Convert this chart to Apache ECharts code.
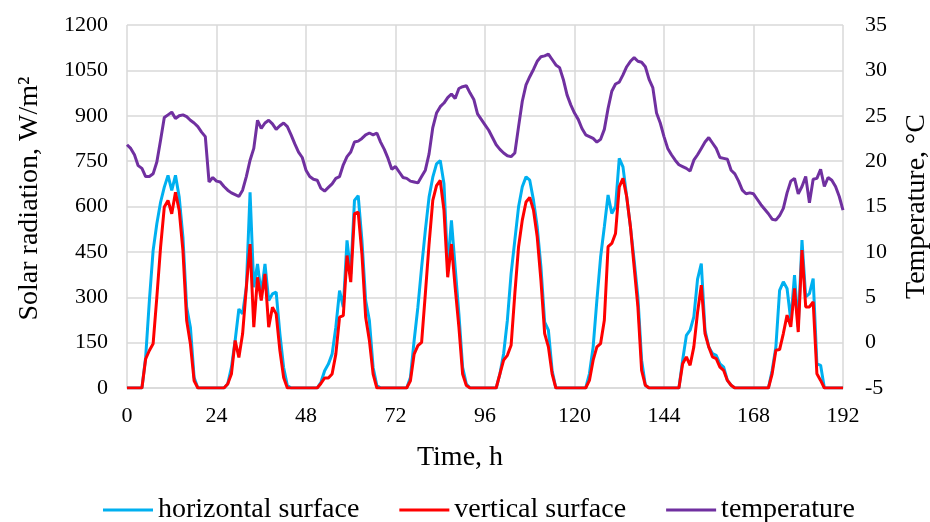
<!DOCTYPE html>
<html>
<head>
<meta charset="utf-8">
<script src="https://cdn.jsdelivr.net/npm/echarts@6/dist/echarts.min.js"></script>
<style>
  html, body { margin: 0; padding: 0; background: #fff; }
  #chart { width: 930px; height: 522px; }
</style>
</head>
<body>
<div id="chart"></div>
<script>
// Hourly time stamps, 0 … 192 h
const hours = Array.from({ length: 193 }, (_, i) => i);
const xTicks = [0, 24, 48, 72, 96, 120, 144, 168, 192];

// Solar radiation on a horizontal surface, W/m²
const horizontal = [
  0, 0, 0, 0, 0, 101, 289, 454, 543, 614, 664, 703, 653, 703, 631, 499, 267, 201, 35, 0, 0, 0, 0, 0,
  0, 0, 0, 13, 68, 157, 261, 245, 333, 647, 333, 410, 311, 410, 289, 311, 317, 179, 68, 8, 0, 0, 0, 0,
  0, 0, 0, 0, 19, 57, 79, 112, 201, 322, 267, 488, 377, 620, 636, 488, 289, 223, 68, 8, 0, 0, 0, 0,
  0, 0, 0, 0, 35, 157, 267, 399, 521, 631, 697, 741, 752, 675, 399, 554, 399, 245, 68, 13, 0, 0, 0, 0,
  0, 0, 0, 0, 47, 114, 224, 378, 489, 599, 665, 698, 687, 621, 533, 400, 218, 191, 58, 0, 0, 0, 0, 0,
  0, 0, 0, 0, 47, 136, 290, 433, 533, 638, 577, 599, 759, 731, 632, 533, 422, 301, 92, 9, 0, 0, 0, 0,
  0, 0, 0, 0, 0, 92, 174, 191, 235, 360, 411, 191, 136, 114, 108, 80, 69, 25, 9, 0, 0, 0, 0, 0,
  0, 0, 0, 0, 0, 58, 136, 323, 351, 329, 224, 373, 202, 489, 301, 312, 362, 80, 75, 0, 0, 0, 0, 0,
  0
];

// Solar radiation on a vertical surface, W/m²
const vertical = [
  0, 0, 0, 0, 0, 96, 124, 146, 300, 465, 598, 620, 576, 647, 587, 454, 223, 146, 24, 0, 0, 0, 0, 0,
  0, 0, 0, 13, 46, 157, 101, 179, 333, 476, 201, 366, 289, 377, 201, 267, 245, 124, 35, 0, 0, 0, 0, 0,
  0, 0, 0, 0, 15, 33, 33, 46, 112, 234, 239, 438, 350, 576, 581, 443, 234, 157, 46, 0, 0, 0, 0, 0,
  0, 0, 0, 0, 24, 112, 140, 151, 311, 476, 620, 669, 686, 587, 366, 476, 333, 201, 46, 8, 0, 0, 0, 0,
  0, 0, 0, 0, 47, 92, 108, 141, 312, 467, 555, 615, 630, 588, 500, 356, 180, 136, 47, 0, 0, 0, 0, 0,
  0, 0, 0, 0, 25, 92, 136, 147, 224, 467, 478, 511, 665, 693, 632, 533, 400, 268, 58, 9, 0, 0, 0, 0,
  0, 0, 0, 0, 0, 80, 103, 75, 136, 250, 340, 180, 136, 103, 97, 69, 58, 25, 9, 0, 0, 0, 0, 0,
  0, 0, 0, 0, 0, 47, 125, 127, 180, 241, 202, 329, 185, 456, 268, 268, 285, 47, 25, 0, 0, 0, 0, 0,
  0
];

// Outdoor air temperature, °C
const temperature = [
  21.8, 21.4, 20.7, 19.5, 19.2, 18.3, 18.3, 18.6, 19.9, 22.3, 24.8, 25.1, 25.4, 24.7, 25.0, 25.1, 24.9, 24.5, 24.2, 23.8, 23.2, 22.7, 17.7, 18.2,
  17.8, 17.7, 17.2, 16.8, 16.5, 16.3, 16.1, 16.8, 18.3, 20.1, 21.4, 24.5, 23.6, 24.2, 24.5, 24.1, 23.5, 23.9, 24.2, 23.8, 22.9, 21.9, 21.0, 20.4,
  19.0, 18.3, 18.0, 17.9, 17.0, 16.7, 17.1, 17.5, 18.1, 18.3, 19.6, 20.5, 21.0, 22.1, 22.2, 22.5, 22.9, 23.1, 22.9, 23.1, 22.1, 21.3, 20.3, 19.1,
  19.4, 18.8, 18.2, 18.1, 17.8, 17.7, 17.6, 18.3, 19.0, 20.8, 23.7, 25.3, 26.0, 26.4, 27.0, 27.4, 26.9, 28.0, 28.2, 28.3, 27.5, 26.8, 25.2, 24.6,
  24.0, 23.4, 22.6, 21.8, 21.3, 20.9, 20.6, 20.5, 20.9, 23.8, 26.6, 28.4, 29.3, 30.1, 31.0, 31.5, 31.6, 31.8, 31.2, 30.6, 30.3, 29.0, 27.3, 26.2,
  25.3, 24.6, 23.6, 22.9, 22.7, 22.5, 22.1, 22.4, 23.5, 25.8, 27.7, 28.5, 28.7, 29.5, 30.4, 31.0, 31.4, 31.0, 30.9, 30.4, 29.0, 28.1, 25.3, 24.2,
  22.7, 21.4, 20.7, 20.1, 19.6, 19.4, 19.2, 18.9, 20.1, 20.7, 21.4, 22.1, 22.6, 22.0, 21.4, 20.4, 20.3, 20.2, 19.0, 18.6, 17.8, 16.8, 16.4, 16.5,
  16.4, 15.8, 15.2, 14.7, 14.2, 13.6, 13.5, 14.0, 14.8, 16.5, 17.8, 18.1, 16.4, 17.2, 18.3, 15.4, 18.0, 18.1, 19.1, 17.2, 18.2, 17.9, 17.2, 16.1,
  14.6
];

const radiationTicks = [0, 150, 300, 450, 600, 750, 900, 1050, 1200];
const temperatureTicks = [-5, 0, 5, 10, 15, 20, 25, 30, 35];

const FONT = "'Liberation Serif', 'Times New Roman', serif";
const GRID_COLOR = '#d9d9d9';

const pairs = (values) => hours.map((h, i) => [h, values[i]]);
const plain = (v) => String(v);

const chart = echarts.init(document.getElementById('chart'), null, { renderer: 'canvas' });

chart.setOption({
  animation: false,
  backgroundColor: '#ffffff',
  textStyle: { fontFamily: FONT, color: '#000' },
  grid: { left: 127, right: 87, top: 25, bottom: 134, containLabel: false, outerBoundsMode: 'none' },
  legend: {
    left: 103,
    top: 496,
    padding: 0,
    icon: 'rect',
    itemWidth: 50,
    itemHeight: 3,
    itemGap: 40,
    textStyle: { fontFamily: FONT, fontSize: 28, color: '#000' },
    data: ['horizontal surface', 'vertical surface', 'temperature']
  },
  xAxis: {
    type: 'value',
    min: xTicks[0],
    max: xTicks[xTicks.length - 1],
    interval: 24,
    name: 'Time, h',
    nameLocation: 'middle',
    nameGap: 56,
    nameTextStyle: { fontFamily: FONT, fontSize: 28, color: '#000', padding: [0, 50, 0, 0] },
    axisLine: { show: true, lineStyle: { color: GRID_COLOR, width: 1.5 } },
    axisTick: { show: false },
    axisLabel: { margin: 17, fontFamily: FONT, fontSize: 22, color: '#000', formatter: plain },
    splitLine: { show: true, lineStyle: { color: GRID_COLOR, width: 1.5 } }
  },
  yAxis: [
    {
      type: 'value',
      min: radiationTicks[0],
      max: radiationTicks[radiationTicks.length - 1],
      interval: 150,
      name: 'Solar radiation, W/m²',
      nameLocation: 'middle',
      nameRotate: 90,
      nameGap: 83,
      nameTextStyle: { fontFamily: FONT, fontSize: 28, color: '#000', padding: [0, 0, 0, 16] },
      axisLine: { show: false },
      axisTick: { show: false },
      axisLabel: { margin: 19, fontFamily: FONT, fontSize: 22, color: '#000', formatter: plain },
      splitLine: { show: true, lineStyle: { color: GRID_COLOR, width: 1.5 } }
    },
    {
      type: 'value',
      min: temperatureTicks[0],
      max: temperatureTicks[temperatureTicks.length - 1],
      interval: 5,
      name: 'Temperature, °C',
      nameLocation: 'middle',
      nameRotate: 90,
      nameGap: 60,
      nameTextStyle: { fontFamily: FONT, fontSize: 28, color: '#000' },
      axisLine: { show: false },
      axisTick: { show: false },
      axisLabel: { margin: 22, fontFamily: FONT, fontSize: 22, color: '#000', formatter: plain },
      splitLine: { show: false }
    }
  ],
  series: [
    {
      name: 'horizontal surface',
      type: 'line',
      yAxisIndex: 0,
      symbol: 'none',
      color: '#00b0f0',
      lineStyle: { color: '#00b0f0', width: 3 },
      data: pairs(horizontal)
    },
    {
      name: 'vertical surface',
      type: 'line',
      yAxisIndex: 0,
      symbol: 'none',
      color: '#ff0000',
      lineStyle: { color: '#ff0000', width: 3 },
      data: pairs(vertical)
    },
    {
      name: 'temperature',
      type: 'line',
      yAxisIndex: 1,
      symbol: 'none',
      color: '#7030a0',
      lineStyle: { color: '#7030a0', width: 3 },
      data: pairs(temperature)
    }
  ]
});
</script>
</body>
</html>
